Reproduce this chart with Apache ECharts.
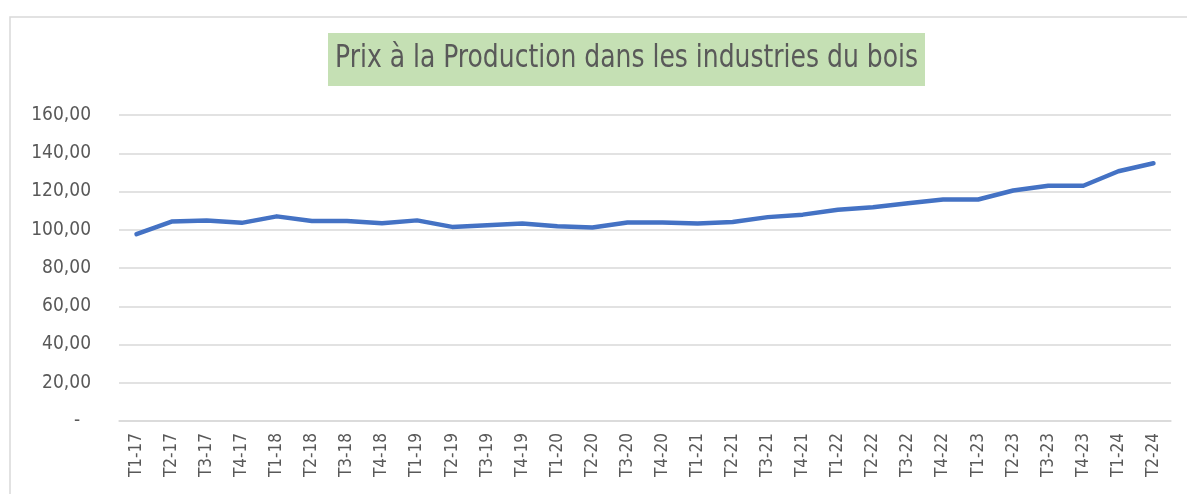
<!DOCTYPE html>
<html>
<head>
<meta charset="utf-8">
<script src="https://cdn.jsdelivr.net/npm/echarts@6/dist/echarts.min.js"></script>
<style>
  html, body { margin: 0; padding: 0; background: #fff; }
  #chart { width: 1187px; height: 494px; }
</style>
</head>
<body>
<div id="chart"></div>
<script>
const categories = [
  "T1-17", "T2-17", "T3-17", "T4-17",
  "T1-18", "T2-18", "T3-18", "T4-18",
  "T1-19", "T2-19", "T3-19", "T4-19",
  "T1-20", "T2-20", "T3-20", "T4-20",
  "T1-21", "T2-21", "T3-21", "T4-21",
  "T1-22", "T2-22", "T3-22", "T4-22",
  "T1-23", "T2-23", "T3-23", "T4-23",
  "T1-24", "T2-24"
];
const prixValues = [
  97.7, 104.3, 104.8, 103.6,
  107.0, 104.6, 104.6, 103.4,
  104.9, 101.5, 102.4, 103.3,
  101.8, 101.2, 103.8, 103.8,
  103.3, 104.0, 106.6, 107.9,
  110.5, 111.8, 113.9, 115.8,
  115.8, 120.5, 123.0, 123.0,
  130.6, 134.8
];
const titleText = "Prix à la Production dans les industries du bois";

const font = '"DejaVu Sans Condensed", "Liberation Sans Narrow", sans-serif';
const grey = "#595959";

const myChart = echarts.init(document.getElementById("chart"));

const option = {
  animation: false,
  grid: {
    left: 119,
    right: 16,
    top: 115,
    bottom: 73,
  },
  graphic: [
    // cadre
    {
      type: "rect",
      shape: { x: 10, y: 17, width: 1300, height: 600 },
      style: { fill: "none", stroke: "#d9d9d9", lineWidth: 1.5 },
      silent: true,
    },
    // titre
    {
      type: "rect",
      shape: { x: 328, y: 33, width: 597, height: 53 },
      style: { fill: "#c5e0b4" },
      silent: true,
    },
    {
      type: "text",
      x: 626.5,
      y: 59,
      scaleX: 0.87,
      style: {
        text: titleText,
        fill: grey,
        font: "32px " + font,
        align: "center",
        verticalAlign: "middle",
      },
      silent: true,
    },
  ],
  xAxis: {
    type: "category",
    data: categories,
    boundaryGap: true,
    axisLine: { lineStyle: { color: "#d9d9d9", width: 1.5 } },
    axisTick: { show: false },
    axisLabel: {
      rotate: 90,
      interval: 0,
      margin: 12,
      color: grey,
      fontFamily: font,
      fontSize: 17,
    },
  },
  yAxis: {
    type: "value",
    min: 0,
    max: 160,
    interval: 20,
    axisLine: { show: false },
    axisTick: { show: false },
    splitLine: { lineStyle: { color: "#d9d9d9", width: 1.5 } },
    axisLabel: {
      margin: 28,
      color: grey,
      fontFamily: font,
      fontSize: 19,
      // format comptable : zéro affiché comme un tiret
      formatter: (v) => (v === 0 ? "-  " : v.toFixed(2).replace(".", ",")),
    },
  },
  series: [
    {
      type: "line",
      data: prixValues,
      showSymbol: false,
      symbol: "none",
      lineStyle: { color: "#4472c4", width: 4.5, cap: "round", join: "round" },
    },
  ],
};

myChart.setOption(option);
</script>
</body>
</html>
